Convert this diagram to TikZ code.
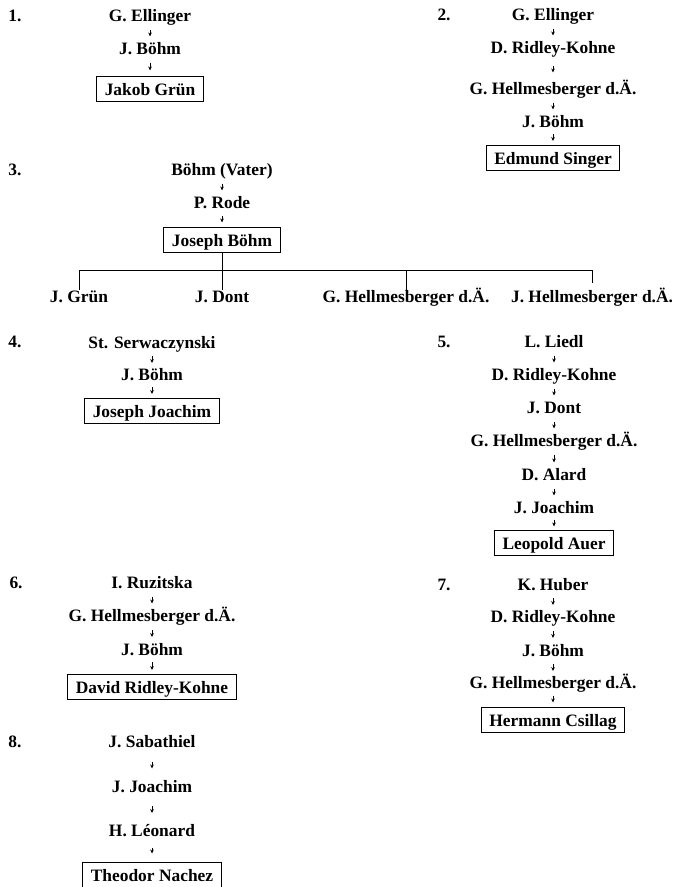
\documentclass[tikz,border=0pt]{standalone}
\usepackage{fontspec}
\setmainfont{Liberation Serif}
\usetikzlibrary{arrows.meta}

\begin{document}
\begin{tikzpicture}[
  x=1pt, y=-1pt,
  >={Stealth[length=4pt,width=3.6pt]},
  line width=1pt,
  every node/.style={font=\fontsize{17.4}{20}\selectfont\bfseries},
  secnum/.style={inner sep=0pt, anchor=base west},
  teacher/.style={inner sep=0pt, text height=12pt, text depth=3pt, anchor=base},
  pupil/.style={draw, inner xsep=8pt, inner ysep=5pt, text height=14pt, text depth=1pt, anchor=base},
  flow/.style={->, line width=0.9pt, shorten <=#1, shorten >=#1},
  flow/.default=5pt
]
  \fill[white] (0,0) rectangle (674,887);
  \useasboundingbox (0,0) rectangle (674,887);

  % 1.
  \node[secnum] (n1) at (8,21) {1.};
  \node[teacher] (ell1) at (150,21) {G. Ellinger};
  \node[teacher] (boehm1) at (150,54) {J. Böhm};
  \node[pupil] (gruen) at (150,95) {Jakob Grün};
  \draw[flow] (ell1) -- (boehm1);
  \draw[flow] (boehm1) -- (gruen);

  % 2.
  \node[secnum] (n2) at (437,20) {2.};
  \node[teacher] (ell2) at (553,20) {G. Ellinger};
  \node[teacher] (ridley2) at (553,53) {D. Ridley-Kohne};
  \node[teacher] (hellm2) at (553,94) {G. Hellmesberger d.Ä.};
  \node[teacher] (boehm2) at (553,127) {J. Böhm};
  \node[pupil] (singer) at (553,164) {Edmund Singer};
  \draw[flow] (ell2) -- (ridley2);
  \draw[flow=9pt] (ridley2) -- (hellm2);
  \draw[flow] (hellm2) -- (boehm2);
  \draw[flow=3.5pt] (boehm2) -- (singer);

  % 3.
  \node[secnum] (n3) at (8,175) {3.};
  \node[teacher] (vater) at (222,175) {Böhm (Vater)};
  \node[teacher] (rode) at (222,208) {P. Rode};
  \node[pupil] (jboehm) at (222,246) {Joseph Böhm};
  \draw[flow] (vater) -- (rode);
  \draw[flow=4pt] (rode) -- (jboehm);
  \node[teacher] (gruen3) at (79,302) {J. Grün};
  \node[teacher] (dont3) at (222,302) {J. Dont};
  \node[teacher] (ghellm3) at (406,302) {G. Hellmesberger d.Ä.};
  \node[teacher] (jhellm3) at (592,302) {J. Hellmesberger d.Ä.};
  \coordinate (bar) at (222,270);
  \draw (jboehm) -- (bar);
  \draw (gruen3 |- bar) -- (jhellm3 |- bar);
  \draw[shorten >=7pt] (gruen3 |- bar) -- (gruen3.north)
    (dont3 |- bar) -- (dont3.north)
    (ghellm3 |- bar) -- (ghellm3.north)
    (jhellm3 |- bar) -- (jhellm3.north);

  % 4.
  \node[secnum] (n4) at (8,347) {4.};
  \node[teacher] (serw) at (152,348) {St. Serwaczynski};
  \node[teacher] (boehm4) at (152,380) {J. Böhm};
  \node[pupil] (joachim) at (152,417) {Joseph Joachim};
  \draw[flow=4.5pt] (serw) -- (boehm4);
  \draw[flow=3.5pt] (boehm4) -- (joachim);

  % 5.
  \node[secnum] (n5) at (437,347) {5.};
  \node[teacher] (liedl) at (554,347) {L. Liedl};
  \node[teacher] (ridley5) at (554,380) {D. Ridley-Kohne};
  \node[teacher] (dont5) at (554,413) {J. Dont};
  \node[teacher] (hellm5) at (554,446) {G. Hellmesberger d.Ä.};
  \node[teacher] (alard) at (554,480) {D. Alard};
  \node[teacher] (joachim5) at (554,513) {J. Joachim};
  \node[pupil] (auer) at (554,549) {Leopold Auer};
  \draw[flow] (liedl) -- (ridley5);
  \draw[flow] (ridley5) -- (dont5);
  \draw[flow] (dont5) -- (hellm5);
  \draw[flow] (hellm5) -- (alard);
  \draw[flow] (alard) -- (joachim5);
  \draw[flow=3pt] (joachim5) -- (auer);

  % 6.
  \node[secnum] (n6) at (9,588) {6.};
  \node[teacher] (ruz) at (152,588) {I. Ruzitska};
  \node[teacher] (hellm6) at (152,621) {G. Hellmesberger d.Ä.};
  \node[teacher] (boehm6) at (152,655) {J. Böhm};
  \node[pupil] (ridley) at (152,693) {David Ridley-Kohne};
  \draw[flow] (ruz) -- (hellm6);
  \draw[flow=5.5pt] (hellm6) -- (boehm6);
  \draw[flow=3.5pt] (boehm6) -- (ridley);

  % 7.
  \node[secnum] (n7) at (437,590) {7.};
  \node[teacher] (huber) at (553,590) {K. Huber};
  \node[teacher] (ridley7) at (553,622) {D. Ridley-Kohne};
  \node[teacher] (boehm7) at (553,656) {J. Böhm};
  \node[teacher] (hellm7) at (553,688) {G. Hellmesberger d.Ä.};
  \node[pupil] (csillag) at (553,726) {Hermann Csillag};
  \draw[flow=4.5pt] (huber) -- (ridley7);
  \draw[flow=5.5pt] (ridley7) -- (boehm7);
  \draw[flow=4.5pt] (boehm7) -- (hellm7);
  \draw[flow=4pt] (hellm7) -- (csillag);

  % 8.
  \node[secnum] (n8) at (8,747) {8.};
  \node[teacher] (sabath) at (152,747) {J. Sabathiel};
  \node[teacher] (joachim8) at (152,792) {J. Joachim};
  \node[teacher] (leonard) at (152,836) {H. Léonard};
  \node[pupil] (nachez) at (152,881) {Theodor Nachez};
  \draw[flow=11pt] (sabath) -- (joachim8);
  \draw[flow=10.5pt] (joachim8) -- (leonard);
  \draw[flow=8pt] (leonard) -- (nachez);
\end{tikzpicture}
\end{document}
